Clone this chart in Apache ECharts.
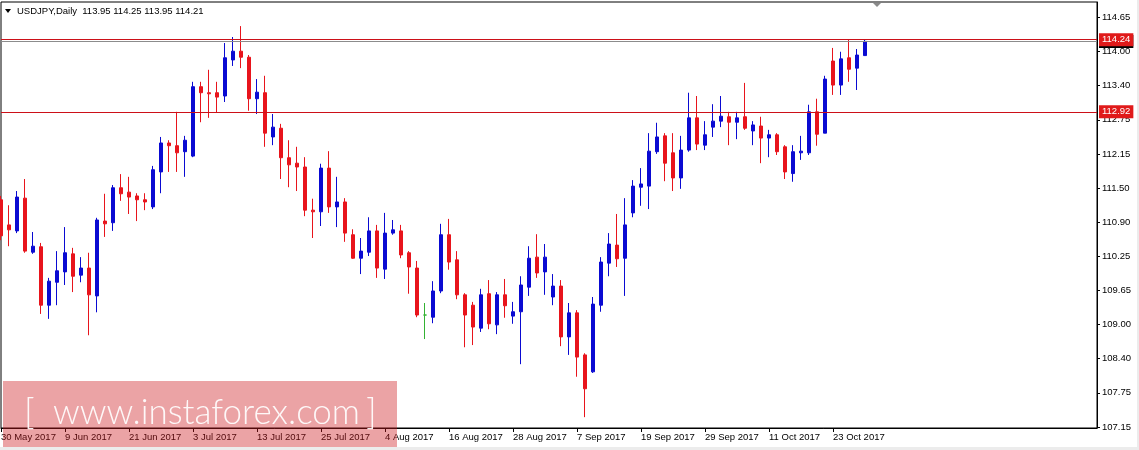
<!DOCTYPE html>
<html><head><meta charset="utf-8">
<script src="https://cdn.jsdelivr.net/npm/echarts@6/dist/echarts.min.js"></script>
<style>html,body{margin:0;padding:0;background:#fff;}#c{width:1139px;height:450px;}</style>
</head><body><div id="c"></div>
<script>
const symbolName = 'USDJPY,Daily';
const dates = [
 '30 May 2017','31 May 2017',
 '1 Jun 2017','2 Jun 2017','5 Jun 2017','6 Jun 2017','7 Jun 2017','8 Jun 2017','9 Jun 2017','12 Jun 2017','13 Jun 2017','14 Jun 2017','15 Jun 2017','16 Jun 2017','19 Jun 2017','20 Jun 2017','21 Jun 2017','22 Jun 2017','23 Jun 2017','26 Jun 2017','27 Jun 2017','28 Jun 2017','29 Jun 2017','30 Jun 2017',
 '3 Jul 2017','4 Jul 2017','5 Jul 2017','6 Jul 2017','7 Jul 2017','10 Jul 2017','11 Jul 2017','12 Jul 2017','13 Jul 2017','14 Jul 2017','17 Jul 2017','18 Jul 2017','19 Jul 2017','20 Jul 2017','21 Jul 2017','24 Jul 2017','25 Jul 2017','26 Jul 2017','27 Jul 2017','28 Jul 2017','31 Jul 2017',
 '1 Aug 2017','2 Aug 2017','3 Aug 2017','4 Aug 2017','7 Aug 2017','8 Aug 2017','9 Aug 2017','10 Aug 2017','11 Aug 2017','14 Aug 2017','15 Aug 2017','16 Aug 2017','17 Aug 2017','18 Aug 2017','21 Aug 2017','22 Aug 2017','23 Aug 2017','24 Aug 2017','25 Aug 2017','28 Aug 2017','29 Aug 2017','30 Aug 2017','31 Aug 2017',
 '1 Sep 2017','4 Sep 2017','5 Sep 2017','6 Sep 2017','7 Sep 2017','8 Sep 2017','11 Sep 2017','12 Sep 2017','13 Sep 2017','14 Sep 2017','15 Sep 2017','18 Sep 2017','19 Sep 2017','20 Sep 2017','21 Sep 2017','22 Sep 2017','25 Sep 2017','26 Sep 2017','27 Sep 2017','28 Sep 2017','29 Sep 2017',
 '2 Oct 2017','3 Oct 2017','4 Oct 2017','5 Oct 2017','6 Oct 2017','9 Oct 2017','10 Oct 2017','11 Oct 2017','12 Oct 2017','13 Oct 2017','16 Oct 2017','17 Oct 2017','18 Oct 2017','19 Oct 2017','20 Oct 2017','23 Oct 2017','24 Oct 2017','25 Oct 2017','26 Oct 2017','27 Oct 2017'
];
const opens = [
 111.31,110.85,110.74,111.34,110.35,110.45,109.38,109.80,109.99,110.32,
 109.93,110.06,109.55,110.92,110.89,111.53,111.45,111.38,111.31,111.18,
 111.82,112.35,112.30,112.19,112.11,113.38,113.27,113.27,113.21,113.87,
 114.03,113.92,113.16,113.27,112.46,112.62,112.08,111.98,111.91,111.12,
 111.09,111.89,111.18,111.27,110.67,110.24,110.35,110.74,110.04,110.70,
 110.74,110.34,110.06,109.20,109.16,109.64,110.67,110.21,109.57,109.38,
 108.96,109.59,109.02,109.57,109.18,109.26,109.71,110.26,109.99,109.53,
 109.73,108.80,109.24,108.47,108.16,109.38,110.15,110.48,110.24,111.07,
 111.54,111.56,112.19,112.48,112.17,111.71,112.22,112.81,112.31,112.64,
 112.75,112.83,112.73,112.83,112.57,112.66,112.44,112.50,112.28,111.79,
 112.17,112.17,112.92,112.53,113.85,113.41,113.91,113.72,113.95
];
const highs = [
 111.38,111.21,111.47,111.69,110.72,110.52,109.88,110.37,110.81,110.43,
 110.26,110.34,110.98,111.42,111.58,111.78,111.73,111.43,111.43,111.93,
 112.46,112.40,112.92,112.48,113.47,113.47,113.69,113.47,114.18,114.29,
 114.49,113.96,113.52,113.58,112.88,112.70,112.40,112.28,112.09,111.33,
 111.97,112.20,111.73,111.34,110.77,110.61,110.99,110.85,111.07,110.94,
 110.85,110.37,110.19,109.42,109.82,110.87,110.96,110.37,109.60,109.44,
 109.68,109.84,109.62,109.86,109.44,109.91,110.46,110.68,110.50,109.95,
 109.84,109.42,109.29,108.50,109.53,110.26,110.70,111.05,111.34,111.67,
 111.89,112.53,112.72,112.53,112.53,112.48,113.27,113.21,112.75,113.06,
 113.21,112.92,112.92,113.45,112.75,112.83,112.59,112.53,112.31,112.31,
 112.48,113.05,113.16,113.58,114.09,114.02,114.24,114.07,114.25
];
const lows = [
 110.57,110.46,110.70,110.34,110.32,109.22,109.13,109.38,109.75,109.62,
 109.80,108.83,109.25,110.63,110.74,111.29,111.05,110.92,111.12,111.14,
 111.43,111.82,111.82,111.73,112.09,112.73,112.81,112.90,113.10,113.76,
 113.72,112.94,112.88,112.28,112.31,111.69,111.54,111.47,111.01,110.61,
 110.83,111.07,110.81,110.54,110.23,109.95,110.28,109.88,109.86,110.67,
 110.24,109.59,109.16,108.76,109.05,109.60,110.03,109.49,108.61,108.65,
 108.89,108.94,108.85,109.15,109.04,108.30,109.55,109.88,109.57,109.38,
 108.63,108.47,108.07,107.33,108.14,109.26,109.91,110.08,109.55,110.99,
 111.20,111.14,112.15,111.65,111.47,111.51,112.19,112.22,112.22,112.46,
 112.64,112.31,112.42,112.59,112.31,111.98,112.09,112.13,111.69,111.64,
 112.04,112.13,112.30,112.53,113.23,113.23,113.47,113.32,113.95
];
const closes = [
 110.65,110.76,111.36,110.37,110.46,109.38,109.82,110.01,110.34,109.91,
 110.06,109.57,110.94,110.87,111.53,111.42,111.36,111.31,111.27,111.86,
 112.35,112.30,112.17,112.40,113.38,113.27,113.25,113.19,113.91,114.03,
 113.92,113.16,113.28,112.53,112.64,112.08,111.95,111.91,111.12,111.09,
 111.89,111.18,111.27,110.70,110.24,110.37,110.74,110.06,110.70,110.76,
 110.30,110.08,109.20,109.20,109.64,110.67,110.17,109.57,109.20,108.98,
 109.57,109.04,109.57,109.37,109.26,109.75,110.24,109.97,110.26,109.73,
 108.80,109.24,108.43,107.85,109.40,110.17,110.50,110.23,110.85,111.56,
 111.60,112.20,112.46,111.98,111.71,112.22,112.81,112.33,112.50,112.75,
 112.84,112.73,112.81,112.62,112.68,112.44,112.50,112.19,111.82,112.19,
 112.20,112.92,112.51,113.52,113.41,113.89,113.70,113.96,114.21
];
const yTickValues = [107.15,107.775,108.4,109.025,109.65,110.275,110.9,111.525,112.15,112.775,113.4,114.025,114.65];
const yTickLabels = ['107.15','107.75','108.40','109.00','109.65','110.25','110.90','111.50','112.15','112.75','113.40','114.00','114.65'];
const levelLines = [114.24, 112.92];
const bidPrice = 114.21;
const shiftSlots = 29;

const cats = dates.concat(new Array(shiftSlots).fill(''));
const ohlc = dates.map((d, i) => [opens[i], closes[i], lows[i], highs[i]]);
const last = dates.length - 1;
const headerText = symbolName + '  ' + [opens[last], highs[last], lows[last], closes[last]].map(v => v.toFixed(2)).join(' ');
const showCat = (i, v) => i % 8 === 0 && v !== '';

const BLUE = '#0a0ad2', RED = '#e8141c', LINE_RED = '#cc1018';
const FONT = 'Liberation Sans';

const chart = echarts.init(document.getElementById('c'), null, {renderer: 'canvas'});
chart.setOption({
  animation: false,
  backgroundColor: '#fff',
  textStyle: {fontFamily: FONT},
  grid: {left: 1, right: 42, top: 2, bottom: 22, show: true, borderColor: '#000', borderWidth: 1,
         containLabel: false, outerBoundsMode: 'none'},
  xAxis: {
    type: 'category', data: cats, boundaryGap: false,
    axisLine: {show: true, lineStyle: {color: '#000', width: 1}},
    axisTick: {show: true, length: 4, interval: showCat, lineStyle: {color: '#000'}},
    axisLabel: {interval: showCat, align: 'left', margin: 4, color: '#000', fontSize: 9.5, fontFamily: FONT},
    splitLine: {show: false}
  },
  yAxis: {
    type: 'value', position: 'right', min: 107.1317, max: 114.931,
    axisLine: {show: true, lineStyle: {color: '#000'}},
    axisTick: {show: true, length: 3, customValues: yTickValues, lineStyle: {color: '#000'}},
    axisLabel: {customValues: yTickValues, margin: 5, color: '#000', fontSize: 9.5, fontFamily: FONT,
      formatter: v => { let k = yTickValues.findIndex(t => Math.abs(t - v) < 1e-6); return k >= 0 ? yTickLabels[k] : ''; }},
    splitLine: {show: false}
  },
  series: [{
    type: 'candlestick', data: ohlc, barWidth: 4, clip: true,
    itemStyle: {color: BLUE, color0: RED, borderColor: BLUE, borderColor0: RED, borderColorDoji: '#33b233', borderWidth: 1},
    markLine: {
      symbol: 'none', silent: true, animation: false,
      data: [
        {yAxis: bidPrice, lineStyle: {color: '#8c8c8c', width: 1, type: 'solid'},
         label: {show: true, position: 'end', distance: 2, formatter: bidPrice.toFixed(2), color: '#fff', backgroundColor: '#000', padding: [2, 3, 1, 3], fontSize: 9.5, fontFamily: FONT}},
        {yAxis: levelLines[0], lineStyle: {color: LINE_RED, width: 1, type: 'solid'},
         label: {show: true, position: 'end', distance: 2, formatter: levelLines[0].toFixed(2), color: '#fff', backgroundColor: '#e01a1a', padding: [2, 3, 1, 3], fontSize: 9.5, fontFamily: FONT}},
        {yAxis: levelLines[1], lineStyle: {color: LINE_RED, width: 1, type: 'solid'},
         label: {show: true, position: 'end', distance: 2, formatter: levelLines[1].toFixed(2), color: '#fff', backgroundColor: '#e01a1a', padding: [2, 3, 1, 3], fontSize: 9.5, fontFamily: FONT}}
      ]
    }
  }],
  graphic: [
    {type: 'polygon', shape: {points: [[5, 9], [11, 9], [8, 13]]}, style: {fill: '#000'}, z: 10},
    {type: 'text', left: 17, top: 6, style: {text: headerText, fill: '#000', font: '9.5px "Liberation Sans"'}, z: 10},
    {type: 'polygon', shape: {points: [[873, 3], [881, 3], [877, 7]]}, style: {fill: '#8a8a8a'}, z: 10},
    {type: 'rect', shape: {x: 0, y: 447, width: 1139, height: 3}, style: {fill: '#ececec'}, z: 5},
    {type: 'rect', shape: {x: 1137, y: 0, width: 2, height: 450}, style: {fill: '#ececec'}, z: 5},
    {type: 'rect', shape: {x: 3, y: 381, width: 394, height: 66}, style: {fill: 'rgba(205,25,30,0.4)'}, z: 20},
    {type: 'text', x: 24, y: 430, style: {text: '[', fill: 'rgba(255,255,255,0.92)', font: '300 36px Lato', textVerticalAlign: 'bottom'}, z: 21},
    {type: 'text', x: 53, y: 430, style: {text: 'www.instaforex.com', fill: 'rgba(255,255,255,0.92)', font: '300 35px Lato', textVerticalAlign: 'bottom'}, z: 21},
    {type: 'text', x: 366, y: 430, style: {text: ']', fill: 'rgba(255,255,255,0.92)', font: '300 36px Lato', textVerticalAlign: 'bottom'}, z: 21}
  ]
});
</script>
</body></html>
